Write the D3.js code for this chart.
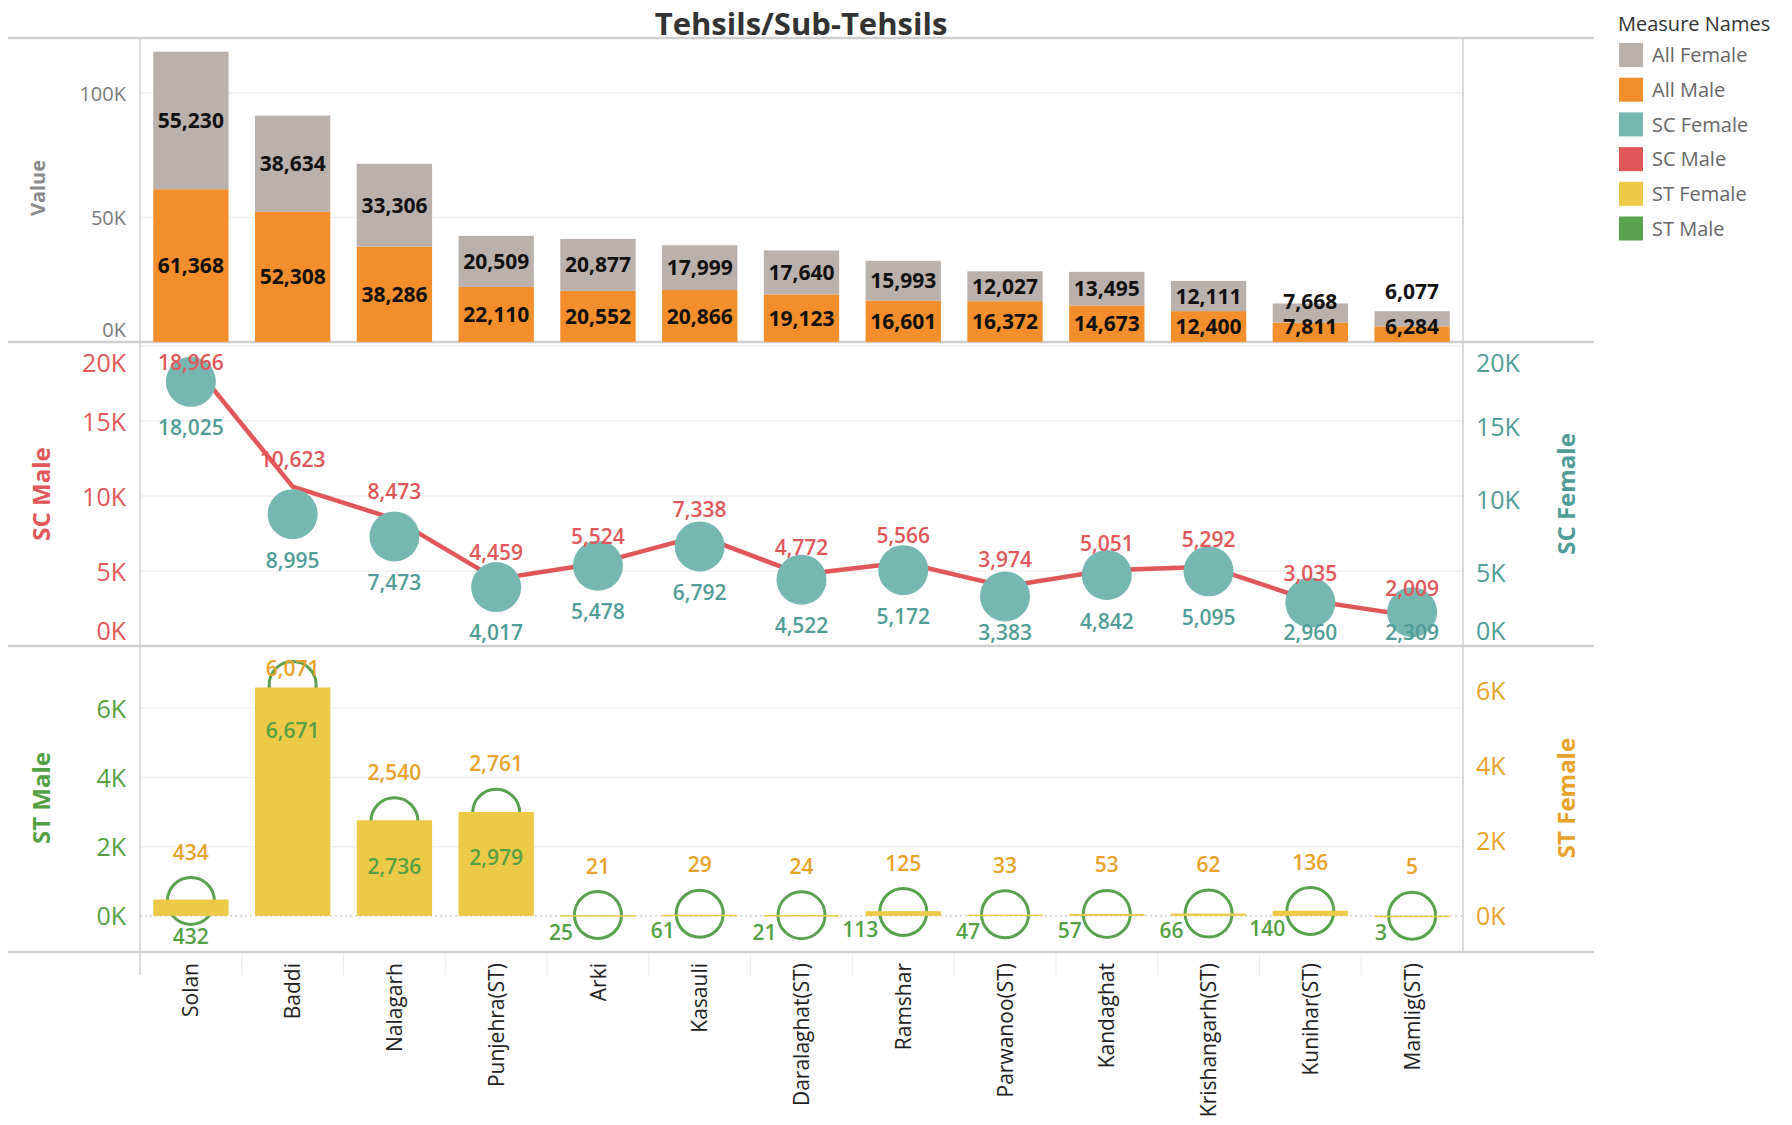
<!DOCTYPE html>
<html lang="en">
<head>
  <meta charset="UTF-8" />
  <title>Tehsils/Sub-Tehsils</title>
  <script src="https://d3js.org/d3.v7.min.js"></script>
  <style>
    html, body {
      margin: 0;
      padding: 0;
      background: #fff;
    }
    svg {
      display: block;
      font-family: "Open Sans", "Noto Sans", sans-serif;
    }
  </style>
</head>
<body>

  <svg id="chart" width="1792" height="1125"></svg>

  <script>
    // ---- data ----
    const tehsils = ["Solan", "Baddi", "Nalagarh", "Punjehra(ST)", "Arki", "Kasauli", "Daralaghat(ST)",
      "Ramshar", "Parwanoo(ST)", "Kandaghat", "Krishangarh(ST)", "Kunihar(ST)", "Mamlig(ST)"];
    const allMale   = [61368, 52308, 38286, 22110, 20552, 20866, 19123, 16601, 16372, 14673, 12400, 7811, 6284];
    const allFemale = [55230, 38634, 33306, 20509, 20877, 17999, 17640, 15993, 12027, 13495, 12111, 7668, 6077];
    const scMale    = [18966, 10623, 8473, 4459, 5524, 7338, 4772, 5566, 3974, 5051, 5292, 3035, 2009];
    const scFemale  = [18025, 8995, 7473, 4017, 5478, 6792, 4522, 5172, 3383, 4842, 5095, 2960, 2309];
    const stMale    = [432, 6671, 2736, 2979, 25, 61, 21, 113, 47, 57, 66, 140, 3];
    const stFemale  = [434, 6071, 2540, 2761, 21, 29, 24, 125, 33, 53, 62, 136, 5];
    const measureNames = ["All Female", "All Male", "SC Female", "SC Male", "ST Female", "ST Male"];
    const allTicks = [0, 50000, 100000];
    const scTicks = [0, 5000, 10000, 15000, 20000];
    const stTicks = [0, 2000, 4000, 6000];

    const colors = {
      "All Female": "#BAB0AC",
      "All Male": "#F28E2B",
      "SC Female": "#76B7B2",
      "SC Male": "#E15759",
      "ST Female": "#EDC948",
      "ST Male": "#59A14F"
    };
    const textColors = {
      scFemale: "#4f9d96",
      scMale: "#E15759",
      stFemale: "#E8A22A",
      stMale: "#54A044"
    };

    const svg = d3.select("#chart");
    const left = 140, right = 1463;
    const rows = [
      { top: 38, bottom: 342 },
      { top: 342, bottom: 646 },
      { top: 646, bottom: 952 }
    ];

    const x = d3.scaleBand()
      .domain(tehsils)
      .range([left, right])
      .paddingInner(0.26)
      .paddingOuter(0.13);
    const cx = d => x(d) + x.bandwidth() / 2;

    const yAll = d3.scaleLinear().domain([0, 122100]).range([342, 38]);
    const ySCM = d3.scaleLinear().domain([0, 20270]).range([646, 342]);
    const ySCF = d3.scaleLinear().domain([0, 20740]).range([646, 342]);
    const ySTM = d3.scaleLinear().domain([-1043, 7797]).range([952, 646]);
    const ySTF = d3.scaleLinear().domain([-960, 7173]).range([952, 646]);

    const fmt = d3.format(",");
    const kfmt = d => (d / 1000) + "K";

    // gridlines
    function grid(scale, ticks) {
      svg.append("g").selectAll("line")
        .data(ticks.filter(t => t !== 0))
        .join("line")
        .attr("x1", left).attr("x2", right)
        .attr("y1", d => scale(d)).attr("y2", d => scale(d))
        .attr("stroke", "#efefef").attr("stroke-width", 1.5);
    }
    grid(yAll, allTicks);
    grid(ySCM, scTicks);
    grid(ySTM, stTicks);

    // dotted zero line in the ST pane
    svg.append("line")
      .attr("x1", left).attr("x2", right)
      .attr("y1", ySTM(0)).attr("y2", ySTM(0))
      .attr("stroke", "#b8b8b8").attr("stroke-width", 1)
      .attr("stroke-dasharray", "2,3");

    // frame lines
    const frame = svg.append("g").attr("stroke", "#cfcfcf");
    [38, 342, 646, 952].forEach(yy => {
      frame.append("line").attr("x1", 8).attr("x2", 1594).attr("y1", yy).attr("y2", yy).attr("stroke-width", 2.5);
    });
    frame.append("line").attr("x1", left).attr("x2", left).attr("y1", 38).attr("y2", 975).attr("stroke-width", 1.5);
    frame.append("line").attr("x1", right).attr("x2", right).attr("y1", 38).attr("y2", 952).attr("stroke-width", 1.5);
    svg.append("g").selectAll("line")
      .data(tehsils.slice(1))
      .join("line")
      .attr("x1", d => x(d) - x.step() * 0.13).attr("x2", d => x(d) - x.step() * 0.13)
      .attr("y1", 953).attr("y2", 975)
      .attr("stroke", "#ececec").attr("stroke-width", 1);

    // axes with tableau-like clamped labels
    function axis(scale, ticks, row, side, size, color) {
      const a = side === "left" ? d3.axisLeft(scale) : d3.axisRight(scale);
      a.tickValues(ticks).tickFormat(kfmt).tickSize(0).tickPadding(0);
      const g = svg.append("g")
        .attr("transform", `translate(${side === "left" ? 126 : 1476},0)`)
        .call(a);
      g.select(".domain").remove();
      const lo = row.top + size * 0.8, hi = row.bottom - size * 0.62;
      g.selectAll(".tick text")
        .attr("x", 0)
        .attr("y", d => Math.max(lo, Math.min(hi, scale(d))) - scale(d))
        .attr("dy", "0.36em")
        .attr("fill", color)
        .attr("font-size", size)
        .attr("font-family", "'Open Sans', 'Noto Sans', sans-serif");
    }
    axis(yAll, allTicks, rows[0], "left", 20, "#7a7a7a");
    axis(ySCM, scTicks, rows[1], "left", 25, textColors.scMale);
    axis(ySCF, scTicks, rows[1], "right", 25, textColors.scFemale);
    axis(ySTM, stTicks, rows[2], "left", 25, textColors.stMale);
    axis(ySTF, stTicks, rows[2], "right", 25, textColors.stFemale);

    // axis titles
    function axisTitle(text, xx, yy, size, color) {
      svg.append("text")
        .attr("transform", `translate(${xx},${yy}) rotate(-90)`)
        .attr("text-anchor", "middle")
        .attr("dy", "0.36em")
        .attr("font-size", size)
        .attr("font-weight", 700)
        .attr("fill", color)
        .text(text);
    }
    axisTitle("Value", 38, 188, 20, "#8a8a8a");
    axisTitle("SC Male", 41, 494, 24, textColors.scMale);
    axisTitle("SC Female", 1566, 494, 24, textColors.scFemale);
    axisTitle("ST Male", 41, 798, 24, textColors.stMale);
    axisTitle("ST Female", 1566, 798, 24, textColors.stFemale);

    // ---- row 1: stacked All Male / All Female ----
    const totals = tehsils.map((t, i) => ({ t, m: allMale[i], f: allFemale[i] }));
    const r1 = svg.append("g");
    r1.selectAll("rect.m").data(totals).join("rect")
      .attr("x", d => x(d.t)).attr("width", x.bandwidth())
      .attr("y", d => yAll(d.m)).attr("height", d => yAll(0) - yAll(d.m))
      .attr("fill", colors["All Male"]);
    r1.selectAll("rect.f").data(totals).join("rect")
      .attr("x", d => x(d.t)).attr("width", x.bandwidth())
      .attr("y", d => yAll(d.m + d.f)).attr("height", d => yAll(d.m) - yAll(d.m + d.f))
      .attr("fill", colors["All Female"]);

    totals.forEach(d => {
      const maleY = Math.min((yAll(0) + yAll(d.m)) / 2, 326);
      const fTop = yAll(d.m + d.f), fBot = yAll(d.m);
      let femY = Math.min((fTop + fBot) / 2, maleY - 25);
      if (fBot - fTop < 17) femY = fTop - 20;
      [[d.m, maleY], [d.f, femY]].forEach(([v, yy]) => {
        r1.append("text")
          .attr("x", cx(d.t)).attr("y", yy).attr("dy", "0.36em")
          .attr("text-anchor", "middle")
          .attr("font-size", 21).attr("font-weight", 700).attr("fill", "#111")
          .text(fmt(v));
      });
    });

    // ---- row 2: SC Male line, SC Female circles ----
    const sc = tehsils.map((t, i) => ({ t, m: scMale[i], f: scFemale[i] }));
    const r2 = svg.append("g");
    r2.append("path")
      .datum(sc)
      .attr("fill", "none")
      .attr("stroke", colors["SC Male"])
      .attr("stroke-width", 4.5)
      .attr("stroke-linejoin", "round")
      .attr("d", d3.line().x(d => cx(d.t)).y(d => ySCM(d.m)));
    r2.selectAll("circle").data(sc).join("circle")
      .attr("cx", d => cx(d.t)).attr("cy", d => ySCF(d.f))
      .attr("r", 25)
      .attr("fill", colors["SC Female"]);
    r2.selectAll("text.f").data(sc).join("text")
      .attr("x", d => cx(d.t))
      .attr("y", d => Math.min(ySCF(d.f) + 46, 632))
      .attr("dy", "0.36em").attr("text-anchor", "middle")
      .attr("font-size", 21).attr("font-weight", 600)
      .attr("fill", textColors.scFemale)
      .text(d => fmt(d.f));
    r2.selectAll("text.m").data(sc).join("text")
      .attr("x", d => cx(d.t))
      .attr("y", d => Math.max(ySCM(d.m) - 27, 362))
      .attr("dy", "0.36em").attr("text-anchor", "middle")
      .attr("font-size", 21).attr("font-weight", 600)
      .attr("fill", textColors.scMale)
      .text(d => fmt(d.m));

    // ---- row 3: ST Female bars, ST Male hollow circles ----
    const st = tehsils.map((t, i) => ({ t, m: stMale[i], f: stFemale[i] }));
    const r3 = svg.append("g");
    r3.selectAll("circle").data(st).join("circle")
      .attr("cx", d => cx(d.t)).attr("cy", d => ySTM(d.m))
      .attr("r", 23.5)
      .attr("fill", "none")
      .attr("stroke", colors["ST Male"])
      .attr("stroke-width", 3);
    r3.selectAll("rect").data(st).join("rect")
      .attr("x", d => x(d.t)).attr("width", x.bandwidth())
      .attr("y", d => ySTF(d.f))
      .attr("height", d => Math.max(1.5, ySTF(0) - ySTF(d.f)))
      .attr("fill", colors["ST Female"]);
    r3.selectAll("text.f").data(st).join("text")
      .attr("x", d => cx(d.t))
      .attr("y", d => Math.max(Math.min(ySTF(d.f), ySTM(d.m) - 25) - 24, 668))
      .attr("dy", "0.36em").attr("text-anchor", "middle")
      .attr("font-size", 21).attr("font-weight", 600)
      .attr("fill", textColors.stFemale)
      .text(d => fmt(d.f));
    r3.selectAll("text.m").data(st).join("text")
      .attr("x", d => d.m < 300 ? cx(d.t) - 25 : cx(d.t))
      .attr("y", d => d.m < 300 ? ySTM(d.m) + 17 : Math.min(ySTM(d.m) + 45, 936))
      .attr("dy", "0.36em")
      .attr("text-anchor", d => d.m < 300 ? "end" : "middle")
      .attr("font-size", 21).attr("font-weight", 600)
      .attr("fill", textColors.stMale)
      .text(d => fmt(d.m));

    // category labels
    svg.append("g").selectAll("text")
      .data(tehsils)
      .join("text")
      .attr("transform", d => `translate(${cx(d)},963) rotate(-90)`)
      .attr("text-anchor", "end")
      .attr("dy", "0.36em")
      .attr("font-size", 21)
      .attr("fill", "#222")
      .text(d => d);

    // title
    svg.append("text")
      .attr("x", 801).attr("y", 24).attr("dy", "0.36em")
      .attr("text-anchor", "middle")
      .attr("font-size", 31).attr("font-weight", 700)
      .attr("fill", "#333")
      .text("Tehsils/Sub-Tehsils");

    // legend
    const legend = svg.append("g").attr("transform", "translate(1619,0)");
    legend.append("text")
      .attr("x", -1).attr("y", 24).attr("dy", "0.36em")
      .attr("font-size", 20).attr("fill", "#333")
      .text("Measure Names");
    const items = legend.selectAll("g.item").data(measureNames).join("g")
      .attr("transform", (d, i) => `translate(0,${55 + i * 34.7})`);
    items.append("rect")
      .attr("x", 0).attr("y", -12).attr("width", 24).attr("height", 24)
      .attr("fill", d => colors[d]);
    items.append("text")
      .attr("x", 33).attr("dy", "0.36em")
      .attr("font-size", 20).attr("fill", "#666")
      .text(d => d);
  </script>

</body>
</html>
